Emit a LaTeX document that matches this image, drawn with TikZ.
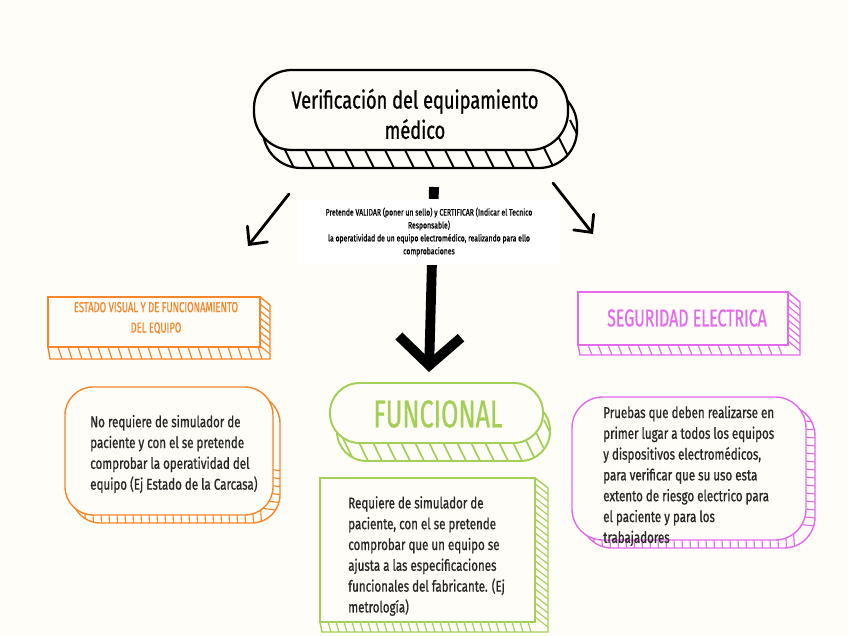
\documentclass[tikz,border=0pt]{standalone}
\usepackage{fontspec}
\newfontfamily\handfont[FakeStretch=0.74, FakeBold=0.8]{Fira Sans}
\newfontfamily\capsfont[FakeStretch=0.65, FakeBold=0.6]{Fira Sans}
\usetikzlibrary{arrows.meta}
\definecolor{paper}{HTML}{FFFDF8}
\definecolor{naranja}{HTML}{F5862A}
\definecolor{rosa}{HTML}{E36BEB}
\definecolor{verde}{HTML}{A3CF57}
\tikzset{
    headtext/.style={font=\capsfont, align=center, inner sep=0pt},
    bodytext/.style={
        font=\handfont\fontsize{11.1}{14.8}\selectfont,
        align=left, text=black!85, inner sep=0pt, anchor=west
    },
    slab/.style={fill=paper, line width=1pt},
    rung/.style={line width=0.8pt},
    thinarrow/.style={line width=2pt, line cap=round,
        -{Straight Barb[angle=88:13pt, line cap=round]}},
    bigarrow/.style={line width=7pt,
        -{Straight Barb[angle=95:30pt]}}
}

\begin{document}
\begin{tikzpicture}[x=0.025cm, y=-0.025cm]
    \useasboundingbox (0,0) rectangle (848,636);
    \fill[paper] (0,0) rectangle (848,636);

    % Titulo (pastilla con relieve)
    \draw[line width=1.6pt, fill=paper, rounded corners=27pt] (263,88) rectangle (577,168);
    \begin{scope}
        \clip[rounded corners=27pt] (263,88) rectangle (577,168);
        \foreach \x in {250,270,...,590}
            \draw[line width=1.4pt] (\x,120) -- ++(25,50);
    \end{scope}
    \draw[line width=1.6pt, fill=paper, rounded corners=27pt] (254,70) rectangle (568,150);
    \node[headtext, font=\handfont\fontsize{17.5}{21.5}\selectfont] (titulo) at (415,114)
        {Verificación del equipamiento\\médico};

    % Flecha central (queda detras del recuadro blanco)
    \coordinate (centroA) at (434,187);
    \coordinate (centroB) at (429,372);
    \draw[bigarrow] (centroA) -- (centroB);

    \node[fill=white, inner sep=0pt, minimum width=6.55cm, minimum height=1.65cm,
          align=center, font=\handfont\fontsize{6.6}{9.2}\selectfont] (proposito) at (429,232)
        {Pretende VALIDAR (poner un sello) y CERTIFICAR (Indicar el Tecnico\\
         Responsable)\\
         la operatividad de un equipo electromédico, realizando para ello\\
         comprobaciones};

    % Flechas laterales
    \coordinate (izqA) at (289,194);
    \coordinate (izqB) at (248,246);
    \coordinate (derA) at (553,183);
    \coordinate (derB) at (593,234);
    \draw[thinarrow] (izqA) -- (izqB);
    \draw[thinarrow] (derA) -- (derB);

    % Estado visual (naranja)
    \draw[slab, draw=naranja] (48,347) -- (50,359) -- (270,359) -- (270,305) -- (260,297) -- cycle;
    \foreach \x in {58,68,...,258}
        \draw[rung, naranja] (\x,347) -- (\x+4,359);
    \foreach \y in {304,311,...,346}
        \draw[rung, naranja] (260,\y) -- (270,\y+8);
    \draw[slab, draw=naranja] (48,297) rectangle (260,347);
    \node[headtext, text=naranja, font=\capsfont\fontsize{10.3}{14.5}\selectfont] (estado) at (156,318)
        {ESTADO VISUAL Y DE FUNCIONAMIENTO\\DEL EQUIPO};

    % Seguridad electrica (rosa)
    \draw[slab, draw=rosa] (578,345) -- (580,355) -- (800,355) -- (800,302) -- (788,292) -- cycle;
    \foreach \x in {588,598,...,786}
        \draw[rung, rosa] (\x,345) -- (\x+4,355);
    \foreach \y in {299,306,...,343}
        \draw[rung, rosa] (788,\y) -- (800,\y+10);
    \draw[slab, draw=rosa] (578,292) rectangle (788,345);
    \node[headtext, text=rosa, font=\capsfont\fontsize{17.4}{20}\selectfont] (seguridad) at (687,318)
        {SEGURIDAD ELECTRICA};

    % Funcional (verde)
    \draw[slab, draw=verde, line width=1.4pt, rounded corners=21pt] (337,401) rectangle (550,461);
    \begin{scope}
        \clip[rounded corners=21pt] (337,401) rectangle (550,461);
        \foreach \x in {320,334,...,560}
            \draw[verde, line width=1.2pt] (\x,420) -- ++(22,45);
    \end{scope}
    \draw[slab, draw=verde, line width=1.4pt, rounded corners=21pt] (330,383) rectangle (543,443);
    \node[headtext, text=verde, font=\capsfont\fontsize{27.5}{30}\selectfont] (funcional) at (438,414)
        {FUNCIONAL};

    % Recuadro naranja con texto
    \draw[slab, draw=naranja, rounded corners=20pt] (72,395) rectangle (280,523);
    \begin{scope}
        \clip[rounded corners=20pt] (72,395) rectangle (280,523);
        \foreach \x in {76,84,...,262}
            \draw[rung, naranja] (\x,500) -- (\x+2,530);
        \foreach \y in {468,476,...,508}
            \draw[rung, naranja] (260,\y) -- (290,\y+4);
    \end{scope}
    \draw[slab, draw=naranja, rounded corners=20pt] (65,387) rectangle (273,515);
    \node[bodytext] (estadotxt) at (90,454)
        {No requiere de simulador de\\
         paciente y con el se pretende\\
         comprobar la operatividad del\\
         equipo (Ej Estado de la Carcasa)};

    % Recuadro verde con texto
    \draw[slab, draw=verde] (320,622) -- (322,632) -- (548,632) -- (548,488) -- (535,478) -- cycle;
    \foreach \x in {328,336,...,533}
        \draw[rung, verde] (\x,622) -- (\x+3,632);
    \foreach \y in {484,491,...,618}
        \draw[rung, verde] (535,\y) -- (548,\y+10);
    \draw[slab, draw=verde] (320,478) rectangle (535,622);
    \node[bodytext] (funcionaltxt) at (348,556)
        {Requiere de simulador de\\
         paciente, con el se pretende\\
         comprobar que un equipo se\\
         ajusta a las especificaciones\\
         funcionales del fabricante. (Ej\\
         metrología)};

    % Recuadro rosa con texto
    \draw[slab, draw=rosa, rounded corners=22pt] (581,405) rectangle (815,548);
    \begin{scope}
        \clip[rounded corners=22pt] (581,405) rectangle (815,548);
        \foreach \x in {585,593,...,793}
            \draw[rung, rosa] (\x,525) -- (\x+2,555);
        \foreach \y in {420,428,...,524}
            \draw[rung, rosa] (795,\y) -- (825,\y+3);
    \end{scope}
    \draw[slab, draw=rosa, rounded corners=22pt] (572,397) rectangle (806,540);
    \node[bodytext] (seguridadtxt) at (603,476)
        {Pruebas que deben realizarse en\\
         primer lugar a todos los equipos\\
         y dispositivos electromédicos,\\
         para verificar que su uso esta\\
         extento de riesgo electrico para\\
         el paciente y para los\\
         trabajadores};
\end{tikzpicture}
\end{document}
